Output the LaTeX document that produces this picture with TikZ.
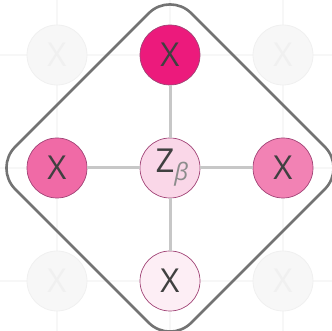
\documentclass[tikz,border=0pt]{standalone}
\usepackage{fontspec}
\setmainfont{Open Sans}
\begin{document}
\begin{tikzpicture}[x=1pt,y=1pt,
  grid/.style={draw=black!3,line width=1.5pt},
  conn/.style={draw=black!22,line width=3pt},
  ghost/.style={circle,minimum size=60pt,inner sep=0pt,fill=black!3,draw=black!6,line width=0.8pt,text=black!6,font=\fontsize{33}{33}\selectfont},
  var/.style={circle,minimum size=60pt,inner sep=0pt,draw=magenta!60!black,line width=0.7pt,text=black!75,font=\fontsize{33}{33}\selectfont}]
\useasboundingbox (0,0) rectangle (332,331);
\definecolor{ptop}{HTML}{EC1A7C}
\definecolor{pleft}{HTML}{F06AA6}
\definecolor{pright}{HTML}{F282B4}
\definecolor{pcen}{HTML}{FAD7E8}
\definecolor{pbot}{HTML}{FDEEF5}
% faint grid
\foreach \v in {57,170,283} {
  \draw[grid] (\v,0) -- (\v,331);
}
\foreach \v in {50,163,276} {
  \draw[grid] (0,\v) -- (332,\v);
}
% ghost nodes
\node[ghost] (g1) at (57,276) {X};
\node[ghost] (g2) at (283,276) {X};
\node[ghost] (g3) at (57,50) {X};
\node[ghost] (g4) at (283,50) {X};
% diamond outline
\coordinate (c) at (170,163);
\draw[black!55,line width=2.6pt,rounded corners=30pt]
  (170,163+176) -- (170+176,163) -- (170,163-176) -- (170-176,163) -- cycle;
% main nodes
\node[var,fill=ptop] (t) at (170,276) {X};
\node[var,fill=pleft] (l) at (57,163) {X};
\node[var,fill=pright] (r) at (283,163) {X};
\node[var,fill=pbot] (b) at (170,50) {X};
\node[var,fill=pcen] (z) at (c) {\hspace{4pt}Z\raisebox{-8pt}{\fontsize{24}{24}\selectfont\itshape\color{black!45}β}};
\draw[conn] (t) -- (z);
\draw[conn] (l) -- (z);
\draw[conn] (r) -- (z);
\draw[conn] (b) -- (z);
\end{tikzpicture}
\end{document}
